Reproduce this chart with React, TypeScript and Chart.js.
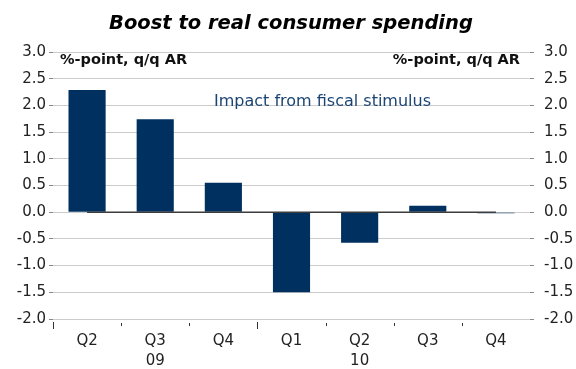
import React, { useEffect, useRef } from "react";
import { Chart, registerables } from "chart.js";

Chart.register(...registerables);

const quarters = ["Q2", "Q3", "Q4", "Q1", "Q2", "Q3", "Q4"];
const years = ["", "09", "", "", "10", "", ""];
const yearStarts = [0, 3];
const impact = [2.29, 1.74, 0.55, -1.5, -0.57, 0.12, -0.02];
const zeroLine = [0, 0, 0, 0, 0, 0, 0];

const titleText = "Boost to real consumer spending";
const unitText = "%-point, q/q AR";
const seriesLabel = "Impact from fiscal stimulus";

const FONT = "'DejaVu Sans', sans-serif";
const NAVY = "#00305f";

const overlayPlugin = {
  id: "overlay",
  afterDraw(chart: any) {
    const { ctx, chartArea } = chart;
    ctx.save();
    // title
    ctx.fillStyle = "#000";
    ctx.font = `italic bold 19.5px ${FONT}`;
    ctx.textAlign = "center";
    ctx.textBaseline = "alphabetic";
    ctx.fillText(titleText, 291, 29);
    // unit labels
    ctx.font = `bold 14.5px ${FONT}`;
    ctx.fillStyle = "#111";
    ctx.textBaseline = "middle";
    ctx.textAlign = "left";
    ctx.fillText(unitText, 60, 60);
    ctx.textAlign = "right";
    ctx.fillText(unitText, 520, 60);
    // series label
    ctx.font = `16px ${FONT}`;
    ctx.fillStyle = "#1b4474";
    ctx.textAlign = "left";
    ctx.fillText(seriesLabel, 214, 102);
    // x tick marks at category boundaries
    ctx.strokeStyle = "#333";
    ctx.lineWidth = 1;
    const n = quarters.length;
    const w = (chartArea.right - chartArea.left) / n;
    for (let i = 0; i < n; i++) {
      const px = Math.round(chartArea.left + i * w) + 0.5;
      const long = yearStarts.includes(i);
      ctx.beginPath();
      ctx.moveTo(px, chartArea.bottom + (long ? 3 : 4));
      ctx.lineTo(px, chartArea.bottom + (long ? 10 : 7));
      ctx.stroke();
    }
    ctx.restore();
  },
};

export default function App() {
  const ref = useRef<HTMLCanvasElement | null>(null);
  useEffect(() => {
    if (!ref.current) return;
    const labels = quarters.map((q, i) => [q, years[i]]);
    const chart = new Chart(ref.current, {
      type: "bar",
      data: {
        labels,
        datasets: [
          {
            type: "line",
            label: "zero",
            data: zeroLine,
            borderColor: "#3c3c3c",
            borderWidth: 1.5,
            pointRadius: 0,
            order: 0,
            yAxisID: "y",
          } as any,
          {
            type: "bar",
            label: seriesLabel,
            data: impact,
            backgroundColor: NAVY,
            borderWidth: 0,
            barPercentage: 0.545,
            categoryPercentage: 1,
            order: 1,
            yAxisID: "y",
          },
        ],
      },
      options: {
        animation: false,
        responsive: true,
        maintainAspectRatio: false,
        layout: { padding: { top: 52, left: 0, right: 0, bottom: 0 } },
        plugins: {
          legend: { display: false },
          title: { display: false },
          tooltip: { enabled: false },
        },
        scales: {
          x: {
            offset: true,
            grid: { display: false, drawTicks: false },
            border: { display: false },
            ticks: {
              color: "#222",
              font: { family: FONT, size: 15, lineHeight: 1.35 },
              padding: 12,
              maxRotation: 0,
              autoSkip: false,
            },
            afterFit(scale: any) {
              scale.height = 50;
            },
          },
          y: {
            position: "left",
            min: -2,
            max: 3,
            ticks: {
              stepSize: 0.5,
              color: "#222",
              font: { family: FONT, size: 15 },
              padding: 3,
              callback: (v: any) => Number(v).toFixed(1),
            },
            grid: { color: "#cccccc", lineWidth: 1, tickLength: 4, tickColor: "#888" },
            border: { display: false },
            afterFit(scale: any) {
              scale.width = 53;
            },
          },
          y2: {
            position: "right",
            min: -2,
            max: 3,
            ticks: {
              stepSize: 0.5,
              color: "#222",
              font: { family: FONT, size: 15 },
              padding: 10,
              callback: (v: any) => Number(v).toFixed(1),
            },
            grid: { drawOnChartArea: false, tickLength: 4, tickColor: "#888" },
            border: { display: false },
            afterFit(scale: any) {
              scale.width = 46;
            },
          },
        },
      },
      plugins: [overlayPlugin],
    });
    return () => chart.destroy();
  }, []);
  return (
    <div style={{ position: "absolute", left: 0, top: 0, width: 576, height: 369, background: "#fff" }}>
      <canvas ref={ref} />
    </div>
  );
}
